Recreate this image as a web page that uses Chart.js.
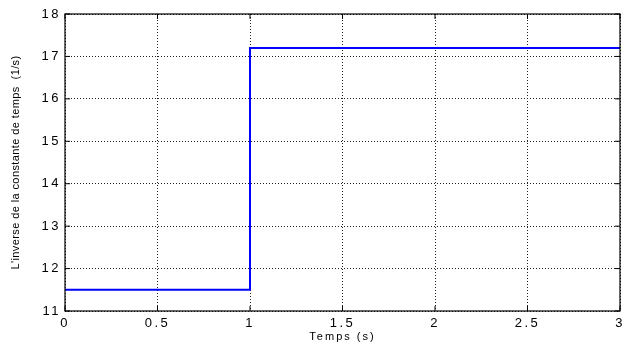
<!DOCTYPE html>
<html>
<head>
<meta charset="utf-8">
<script src="https://cdn.jsdelivr.net/npm/chart.js@4/dist/chart.umd.min.js"></script>
<style>
  html, body { margin: 0; padding: 0; background: #fff; }
  #wrap { width: 623px; height: 347px; }
</style>
</head>
<body>
<div id="wrap"><canvas id="chart_1"></canvas></div>
<script>
// step response of the inverse time constant
var times = [0, 1, 3];
var values = [11.5, 17.2, 17.2];
var xTicks = [0, 0.5, 1, 1.5, 2, 2.5, 3];
var yTicks = [11, 12, 13, 14, 15, 16, 17, 18];

var points = times.map(function(t, i) {
    return { x: t, y: values[i] };
});

// black frame round the plot area, like a matlab axes box
var boxPlugin = {
    id: 'box',
    afterDraw: function(chart) {
        var a = chart.chartArea;
        var ctx = chart.ctx;
        ctx.save();
        ctx.strokeStyle = '#000';
        ctx.lineWidth = 1.2;
        ctx.strokeRect(a.left, a.top, a.right - a.left, a.bottom - a.top);
        // small inward tick marks
        ctx.lineWidth = 1;
        ctx.beginPath();
        var xs = chart.scales.x, ys = chart.scales.y;
        xTicks.forEach(function(v) {
            var px = xs.getPixelForValue(v);
            ctx.moveTo(px, a.bottom); ctx.lineTo(px, a.bottom - 5);
            ctx.moveTo(px, a.top); ctx.lineTo(px, a.top + 5);
        });
        yTicks.forEach(function(v) {
            var py = ys.getPixelForValue(v);
            ctx.moveTo(a.left, py); ctx.lineTo(a.left + 5, py);
            ctx.moveTo(a.right, py); ctx.lineTo(a.right - 5, py);
        });
        ctx.stroke();
        ctx.restore();
    }
};

// wider letters for labels and titles (text looks stretched sideways)
function spaceText(scale, labelSpacing, titleSpacing, titleShift) {
    if (scale._spaced) return;
    scale._spaced = true;
    var drawLabels = scale.drawLabels;
    var drawTitle = scale.drawTitle;
    scale.drawLabels = function() {
        this.ctx.letterSpacing = labelSpacing;
        drawLabels.apply(this, arguments);
        this.ctx.letterSpacing = '0px';
    };
    scale.drawTitle = function() {
        var ctx = this.ctx;
        ctx.save();
        ctx.letterSpacing = titleSpacing;
        ctx.translate(0, titleShift);
        drawTitle.apply(this, arguments);
        ctx.restore();
    };
}

var font = 'Liberation Sans, Arial, sans-serif';

var chart_1 = new Chart(document.getElementById('chart_1'), {
    type: 'line',
    data: {
        datasets: [{
            data: points,
            stepped: true,
            borderColor: '#0000ff',
            borderWidth: 2,
            pointRadius: 0,
            fill: false
        }]
    },
    options: {
        responsive: true,
        maintainAspectRatio: false,
        animation: false,
        layout: { padding: { top: 14, right: 3, left: 0, bottom: 0 } },
        plugins: {
            legend: { display: false },
            tooltip: { enabled: false }
        },
        scales: {
            x: {
                type: 'linear',
                min: 0,
                max: 3,
                afterBuildTicks: function(scale) {
                    scale.ticks = xTicks.map(function(v) { return { value: v }; });
                },
                afterFit: function(scale) {
                    scale.height = 36;
                    scale.paddingLeft = 0;
                    scale.paddingRight = 0;
                    spaceText(scale, '2.5px', '2px', -3);
                },
                border: { display: false, dash: [1, 2] },
                grid: {
                    color: '#222',
                    lineWidth: 1,
                    drawTicks: false
                },
                ticks: {
                    color: '#000',
                    padding: 5,
                    maxRotation: 0,
                    font: { family: font, size: 13 },
                    callback: function(v) { return String(v); }
                },
                title: {
                    display: true,
                    text: 'Temps (s)',
                    color: '#000',
                    padding: { top: 1, bottom: 0 },
                    font: { family: font, size: 11 }
                }
            },
            y: {
                min: 11,
                max: 18,
                afterBuildTicks: function(scale) {
                    scale.ticks = yTicks.map(function(v) { return { value: v }; });
                },
                afterFit: function(scale) {
                    scale.width = 65;
                    scale.paddingTop = 0;
                    scale.paddingBottom = 0;
                    spaceText(scale, '2.5px', '0.4px', 0);
                },
                border: { display: false, dash: [1, 2] },
                grid: {
                    color: '#222',
                    lineWidth: 1,
                    drawTicks: false
                },
                ticks: {
                    color: '#000',
                    padding: 4,
                    font: { family: font, size: 13 },
                    callback: function(v) { return String(v); }
                },
                title: {
                    display: true,
                    text: "L'inverse de la constante de temps  (1/s)",
                    color: '#000',
                    padding: { top: 9, bottom: 0 },
                    font: { family: font, size: 11 }
                }
            }
        }
    },
    plugins: [boxPlugin]
});
</script>
</body>
</html>
